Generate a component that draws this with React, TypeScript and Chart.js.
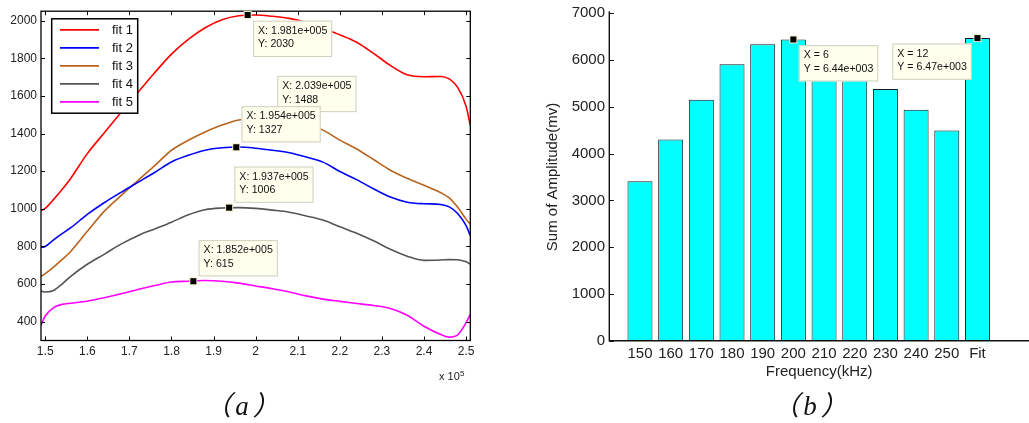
import React, { useEffect, useRef } from "react";
import { Chart, registerables } from "chart.js";
Chart.register(...registerables);

const FONT = "'Liberation Sans', Arial, Helvetica, sans-serif";

// ---------- Panel (a) data ----------
const freq = [149000, 150000, 152000, 154000, 156000, 160000, 164000, 168000, 172000, 176000, 180000, 184000, 188000, 192000, 196000, 200000, 204000, 208000, 212000, 216000, 220000, 224000, 228000, 232000, 236000, 240000, 244000, 246000, 248000, 250000, 251000];
const fit1 = [990, 1002, 1050, 1103, 1160, 1293, 1403, 1512, 1618, 1723, 1822, 1900, 1962, 2005, 2026, 2030, 2023, 2012, 1990, 1958, 1925, 1885, 1826, 1762, 1712, 1702, 1703, 1690, 1645, 1545, 1443];
const fit2 = [795, 800, 835, 868, 898, 970, 1032, 1087, 1140, 1193, 1249, 1284, 1311, 1324, 1328, 1322, 1311, 1298, 1275, 1248, 1198, 1155, 1106, 1062, 1035, 1027, 1023, 1010, 975, 910, 858];
const fit3 = [641, 655, 690, 730, 772, 880, 986, 1070, 1150, 1229, 1311, 1364, 1408, 1445, 1472, 1484, 1488, 1477, 1452, 1418, 1365, 1318, 1262, 1205, 1162, 1125, 1085, 1058, 1008, 945, 918];
const fit4 = [563, 558, 566, 600, 640, 705, 758, 812, 857, 893, 929, 968, 995, 1004, 1006, 1002, 993, 982, 962, 940, 904, 870, 830, 785, 748, 726, 728, 730, 729, 718, 705];
const fit5 = [381, 430, 475, 492, 498, 509, 527, 548, 571, 592, 611, 615, 619, 615, 605, 590, 575, 558, 537, 520, 508, 497, 486, 470, 434, 376, 332, 318, 330, 395, 439];
const fitLabels = ["fit 1", "fit 2", "fit 3", "fit 4", "fit 5"];
const fitColors = ["#ff0000", "#0000ff", "#b8641e", "#555555", "#ff00ff"];
const xTickVals = [150000, 160000, 170000, 180000, 190000, 200000, 210000, 220000, 230000, 240000, 250000];
const yTickValsA = [400, 600, 800, 1000, 1200, 1400, 1600, 1800, 2000];
const tipXA = [198100, 203900, 195400, 193700, 185200];
const tipYA = [2030, 1488, 1327, 1006, 615];
const tipPlaceA = ["below", "above", "above", "above", "above"];

// ---------- Panel (b) data ----------
const categories = ["150", "160", "170", "180", "190", "200", "210", "220", "230", "240", "250", "Fit"];
const amplitudes = [3410, 4300, 5150, 5910, 6340, 6440, 6150, 5800, 5380, 4940, 4495, 6470];
const yTickValsB = [0, 1000, 2000, 3000, 4000, 5000, 6000, 7000];
const tipIndexB = [6, 12];
const tipPlaceB = ["belowRight", "belowLeft"];

function formatExp(v: number, digits: number) {
  const s = v.toExponential(digits);
  const [m, e] = s.split("e");
  const sign = e[0] === "-" ? "-" : "+";
  const num = e.replace(/[+-]/, "").padStart(3, "0");
  return `${m}e${sign}${num}`;
}

function drawTip(ctx: CanvasRenderingContext2D, mx: number, my: number, lines: string[], place: string) {
  ctx.save();
  ctx.font = `10.6px ${FONT}`;
  const w = Math.max(...lines.map((l) => ctx.measureText(l).width)) + 10;
  const h = 36.3;
  let bx = mx + 5.2;
  let by = my - 4.8 - h;
  if (place === "below" || place === "belowRight") {
    bx = mx + 5.4;
    by = my + 5.7;
  } else if (place === "belowLeft") {
    bx = mx - 5.6 - w;
    by = my + 5.4;
  }
  ctx.fillStyle = "#f2edc2";
  ctx.fillRect(mx - 4, my - 4, 8, 8);
  ctx.fillStyle = "#000";
  ctx.fillRect(mx - 3, my - 3, 6, 6);
  ctx.fillStyle = "#ffffee";
  ctx.fillRect(bx, by, w, h);
  ctx.strokeStyle = "#cfcfc0";
  ctx.lineWidth = 1;
  ctx.strokeRect(bx + 0.5, by + 0.5, w - 1, h - 1);
  ctx.fillStyle = "#111";
  ctx.textBaseline = "middle";
  ctx.textAlign = "left";
  ctx.fillText(lines[0], bx + 5, by + 10.3);
  ctx.fillText(lines[1], bx + 5, by + 23.8);
  ctx.restore();
}

const panelAPlugin = {
  id: "panelA",
  afterDraw(chart: any) {
    const { ctx, chartArea } = chart;
    const { left, right, top, bottom } = chartArea;
    const x = chart.scales.x;
    const y = chart.scales.y;
    ctx.save();
    ctx.strokeStyle = "#000";
    ctx.lineWidth = 1;
    ctx.beginPath();
    for (const v of xTickVals) {
      const px = Math.round(x.getPixelForValue(v)) + 0.5;
      ctx.moveTo(px, bottom);
      ctx.lineTo(px, bottom - 4);
      ctx.moveTo(px, top);
      ctx.lineTo(px, top + 4);
    }
    for (const v of yTickValsA) {
      const py = Math.round(y.getPixelForValue(v)) + 0.5;
      ctx.moveTo(left, py);
      ctx.lineTo(left + 4, py);
      ctx.moveTo(right, py);
      ctx.lineTo(right - 4, py);
    }
    ctx.stroke();
    ctx.lineWidth = 1.3;
    ctx.strokeRect(left, top, right - left, bottom - top);

    // exponent label
    ctx.fillStyle = "#222";
    ctx.textBaseline = "alphabetic";
    ctx.textAlign = "right";
    ctx.font = `11px ${FONT}`;
    ctx.fillText("x 10", right - 10.5, 380);
    ctx.textAlign = "left";
    ctx.font = `8px ${FONT}`;
    ctx.fillText("5", right - 10.3, 375.5);
    ctx.restore();

    // data tips
    tipXA.forEach((tx, i) => {
      const mx = x.getPixelForValue(tx);
      const my = y.getPixelForValue(tipYA[i]);
      drawTip(ctx, mx, my, [`X: ${formatExp(tx, 3)}`, `Y: ${tipYA[i]}`], tipPlaceA[i]);
    });

    // legend
    const lx = left + 10.7;
    const ly = top + 7.6;
    const lw = 86;
    const lh = 94.4;
    ctx.save();
    ctx.fillStyle = "#fff";
    ctx.fillRect(lx, ly, lw, lh);
    ctx.strokeStyle = "#000";
    ctx.lineWidth = 1.5;
    ctx.strokeRect(lx, ly, lw, lh);
    ctx.font = `13px ${FONT}`;
    ctx.textBaseline = "middle";
    ctx.textAlign = "left";
    chart.data.datasets.forEach((ds: any, i: number) => {
      const ry = ly + 11 + i * 18;
      ctx.strokeStyle = ds.borderColor;
      ctx.lineWidth = 1.8;
      ctx.beginPath();
      ctx.moveTo(lx + 8.3, ry);
      ctx.lineTo(lx + 47.3, ry);
      ctx.stroke();
      ctx.fillStyle = "#111";
      ctx.fillText(ds.label, lx + 60.3, ry + 0.5);
    });
    ctx.restore();
  },
};

const panelBPlugin = {
  id: "panelB",
  afterDraw(chart: any) {
    const { ctx, chartArea } = chart;
    const { left, right, top, bottom } = chartArea;
    const x = chart.scales.x;
    const y = chart.scales.y;
    ctx.save();
    ctx.strokeStyle = "#111";
    ctx.lineWidth = 1;
    ctx.beginPath();
    for (const v of yTickValsB) {
      const py = Math.round(y.getPixelForValue(v)) + 0.5;
      ctx.moveTo(left, py);
      ctx.lineTo(left + 4.5, py);
    }
    ctx.stroke();
    ctx.lineWidth = 1.4;
    ctx.beginPath();
    ctx.moveTo(left, top - 2);
    ctx.lineTo(left, bottom);
    ctx.lineTo(right, bottom);
    ctx.stroke();
    ctx.restore();

    tipIndexB.forEach((idx, i) => {
      const val = amplitudes[idx - 1];
      const mx = x.getPixelForValue(idx);
      const my = y.getPixelForValue(val);
      drawTip(ctx, mx, my, [`X = ${idx}`, `Y = ${formatExp(val, 2)}`], tipPlaceB[i]);
    });
  },
};

export default function App() {
  const aRef = useRef<HTMLCanvasElement>(null);
  const bRef = useRef<HTMLCanvasElement>(null);

  useEffect(() => {
    const fits = [fit1, fit2, fit3, fit4, fit5];
    const chartA = new Chart(aRef.current as HTMLCanvasElement, {
      type: "line",
      data: {
        datasets: fits.map((f, i) => ({
          label: fitLabels[i],
          data: freq.map((xv, j) => ({ x: xv, y: f[j] })),
          borderColor: fitColors[i],
          backgroundColor: fitColors[i],
          borderWidth: 1.6,
          pointRadius: 0,
          cubicInterpolationMode: "monotone",
          fill: false,
        })),
      },
      options: {
        responsive: false,
        animation: false,
        events: [],
        layout: { padding: { top: 10.7, right: 49.7, left: 0, bottom: 0 } },
        plugins: { legend: { display: false }, tooltip: { enabled: false } },
        scales: {
          x: {
            type: "linear",
            min: 149000,
            max: 251000,
            afterBuildTicks: (s: any) => {
              s.ticks = xTickVals.map((value) => ({ value }));
            },
            afterFit: (s: any) => {
              s.height = 82.5;
            },
            grid: { display: false, drawTicks: false },
            border: { display: false },
            ticks: {
              callback: (v: any) => String(Number(v) / 1e5),
              font: { family: FONT, size: 12 },
              color: "#222",
              padding: 4,
              maxRotation: 0,
              autoSkip: false,
            },
          },
          y: {
            type: "linear",
            min: 300,
            max: 2050,
            afterBuildTicks: (s: any) => {
              s.ticks = yTickValsA.map((value) => ({ value }));
            },
            afterFit: (s: any) => {
              s.width = 41;
            },
            grid: { display: false, drawTicks: false },
            border: { display: false },
            ticks: {
              callback: (v: any) => String(v),
              font: { family: FONT, size: 12 },
              color: "#222",
              padding: 4,
            },
          },
        },
      } as any,
      plugins: [panelAPlugin],
    });

    const chartB = new Chart(bRef.current as HTMLCanvasElement, {
      type: "bar",
      data: {
        datasets: [
          {
            label: "Sum of Amplitude",
            data: amplitudes.map((v, i) => ({ x: i + 1, y: v })),
            backgroundColor: "#00ffff",
            borderColor: "#1a1a1a",
            borderWidth: 1,
            borderSkipped: "start",
            categoryPercentage: 1,
            barPercentage: 0.815,
          },
        ],
      },
      options: {
        responsive: false,
        animation: false,
        events: [],
        layout: { padding: { top: 10, right: 0, left: 0, bottom: 0 } },
        plugins: { legend: { display: false }, tooltip: { enabled: false } },
        scales: {
          x: {
            type: "linear",
            min: 0,
            max: 13.68,
            offset: false,
            afterBuildTicks: (s: any) => {
              s.ticks = categories.map((_, i) => ({ value: i + 1 }));
            },
            afterFit: (s: any) => {
              s.height = 82.3;
            },
            grid: { display: false, drawTicks: false },
            border: { display: false },
            ticks: {
              callback: (v: any) => categories[Number(v) - 1] ?? "",
              font: { family: FONT, size: 15 },
              color: "#222",
              padding: 4,
              maxRotation: 0,
              autoSkip: false,
            },
            title: {
              display: true,
              text: "Frequency(kHz)",
              font: { family: FONT, size: 15 },
              color: "#222",
              padding: { top: 0, bottom: 42.3 },
            },
          },
          y: {
            type: "linear",
            min: 0,
            max: 7000,
            afterBuildTicks: (s: any) => {
              s.ticks = yTickValsB.map((value) => ({ value }));
            },
            afterFit: (s: any) => {
              s.width = 89.3;
            },
            grid: { display: false, drawTicks: false },
            border: { display: false },
            ticks: {
              callback: (v: any) => String(v),
              font: { family: FONT, size: 15 },
              color: "#222",
              padding: 4.3,
            },
            title: {
              display: true,
              text: "Sum of Amplitude(mv)",
              font: { family: FONT, size: 15 },
              color: "#222",
              padding: { top: 24.3, bottom: 0 },
            },
          },
        },
      } as any,
      plugins: [panelBPlugin],
    });

    return () => {
      chartA.destroy();
      chartB.destroy();
    };
  }, []);

  const caption = (cx: number): React.CSSProperties => ({
    position: "absolute",
    left: cx - 50,
    width: 100,
    top: 390,
    textAlign: "center",
    fontFamily: "'Liberation Serif', 'Noto Sans CJK SC', serif",
    fontStyle: "italic",
    fontSize: 27,
    letterSpacing: 4,
    lineHeight: "32px",
    color: "#111",
  });

  return (
    <div style={{ position: "absolute", left: 0, top: 0, width: 1029, height: 423, background: "#fff", overflow: "hidden" }}>
      <canvas ref={aRef} width={520} height={423} style={{ position: "absolute", left: 0, top: 0, width: 520, height: 423 }} />
      <canvas ref={bRef} width={509} height={423} style={{ position: "absolute", left: 520, top: 0, width: 509, height: 423 }} />
      <div style={caption(244)}>（a）</div>
      <div style={caption(812)}>（b）</div>
    </div>
  );
}
